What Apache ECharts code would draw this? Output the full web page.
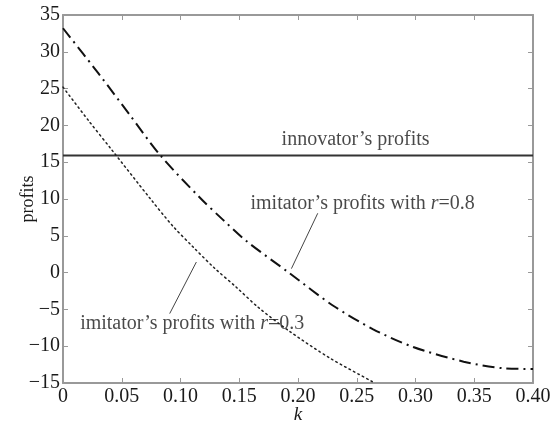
<!DOCTYPE html>
<html>
<head>
<meta charset="utf-8">
<script src="https://cdn.jsdelivr.net/npm/echarts@6/dist/echarts.min.js"></script>
<style>
  html, body { margin: 0; padding: 0; background: #fff; }
  #chart { width: 556px; height: 428px; }
</style>
</head>
<body>
<div id="chart"></div>
<script>
// tick labels
var kTicks = ['0', '0.05', '0.10', '0.15', '0.20', '0.25', '0.30', '0.35', '0.40'];

// [k, profits]
var innovator = [[0, 15.9], [0.40, 15.9]];
var imitator08 = [
  [0, 33.2], [0.03, 27.1], [0.056, 21.6], [0.083, 15.9], [0.117, 10.1],
  [0.136, 7.2], [0.156, 4.3], [0.193, -0.1], [0.23, -4.5], [0.264, -7.7],
  [0.298, -10.1], [0.341, -12.1], [0.375, -13.0], [0.40, -13.1]
];
var imitator03 = [
  [0, 25.2], [0.0215, 20.7], [0.0414, 16.7], [0.074, 10.1], [0.0936, 6.3],
  [0.1106, 3.5], [0.129, 0.6], [0.1476, -2.0], [0.166, -4.7], [0.193, -8.0],
  [0.227, -11.6], [0.263, -14.8], [0.265, -15]
];
// leader lines from labels to curves
var pointer08 = [[0.2168, 8.06], [0.1944, 0.54]];
var pointer03 = [[0.0908, -5.57], [0.1135, 1.44]];

var serif = '"Liberation Serif", "Times New Roman", serif';
var frame = '#999';
var ink = '#1a1a1a';

var chart = echarts.init(document.getElementById('chart'));

function tickAxis(pos) {
  return {
    position: pos,
    axisLine: { show: true, onZero: false, lineStyle: { color: frame, width: 2 } },
    axisTick: { show: true, inside: true, length: 5, lineStyle: { color: frame } },
    axisLabel: { show: false },
    splitLine: { show: false }
  };
}

var option = {
  animation: false,
  textStyle: { fontFamily: serif },
  grid: { left: 63, right: 23, top: 15, bottom: 45, containLabel: false, outerBoundsMode: 'none' },
  xAxis: [
    Object.assign(tickAxis('bottom'), {
      type: 'value', min: 0, max: 0.4, interval: 0.05,
      name: 'k', nameLocation: 'middle', nameGap: 22, nameMoveOverlap: false,
      nameTextStyle: { fontFamily: serif, fontSize: 19, fontStyle: 'italic', color: ink },
      axisLabel: {
        show: true, margin: 4, fontFamily: serif, fontSize: 20, color: ink,
        formatter: function (v) { return kTicks[Math.round(v / 0.05)]; }
      }
    }),
    Object.assign(tickAxis('top'), { type: 'value', min: 0, max: 0.4, interval: 0.05 })
  ],
  yAxis: [
    Object.assign(tickAxis('left'), {
      type: 'value', min: -15, max: 35, interval: 5,
      name: 'profits', nameLocation: 'middle', nameGap: 26, nameMoveOverlap: false,
      nameTextStyle: { fontFamily: serif, fontSize: 18, color: ink },
      axisLabel: {
        show: true, margin: 3, fontFamily: serif, fontSize: 20, color: ink,
        formatter: function (v) { return String(v).replace('-', '\u2212'); }
      }
    }),
    Object.assign(tickAxis('right'), { type: 'value', min: -15, max: 35, interval: 5 })
  ],
  series: [
    {
      name: 'innovator', type: 'line', data: innovator, symbol: 'none',
      lineStyle: { color: '#333', width: 2 }
    },
    {
      name: 'r=0.8', type: 'line', data: imitator08, symbol: 'none', smooth: 0.3,
      lineStyle: { color: '#111', width: 2, type: [12, 5, 2, 5] }
    },
    {
      name: 'r=0.3', type: 'line', data: imitator03, symbol: 'none', smooth: 0.3,
      lineStyle: { color: '#222', width: 1.5, type: [1.5, 3.5], cap: 'round' }
    },
    {
      type: 'line', data: pointer08, symbol: 'none',
      lineStyle: { color: '#444', width: 1 }
    },
    {
      type: 'line', data: pointer03, symbol: 'none',
      lineStyle: { color: '#444', width: 1 }
    },
    {
      type: 'scatter', symbolSize: 0, silent: true,
      data: [
        { value: [0.249, 18.0], name: 'innovator\u2019s profits' },
        { value: [0.255, 9.4], name: 'imitator\u2019s profits with {i|r}=0.8' },
        { value: [0.110, -6.9], name: 'imitator\u2019s profits with {i|r}=0.3' }
      ],
      label: {
        show: true, position: 'inside', fontFamily: serif, fontSize: 20, color: ink,
        formatter: function (p) { return p.name; },
        rich: { i: { fontFamily: serif, fontSize: 20, fontStyle: 'italic', color: ink } }
      }
    }
  ]
};

chart.setOption(option);
</script>
</body>
</html>
